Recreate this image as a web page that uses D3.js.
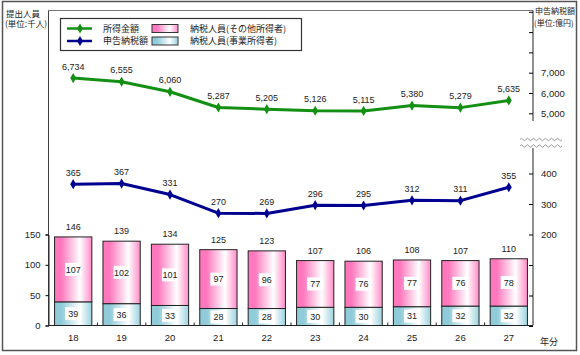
<!DOCTYPE html>
<html><head><meta charset="utf-8">
<script src="https://cdn.jsdelivr.net/npm/d3@7"></script>
<style>
body{margin:0;background:#fff;}
text{font-family:"Liberation Sans",Arial,sans-serif;fill:#222;}
.jp{font-family:"Noto Sans CJK JP",sans-serif;}
</style></head>
<body>
<svg id="c" width="580" height="355"></svg>
<script>
const years = ["18","19","20","21","22","23","24","25","26","27"];
const income = [6734,6555,6060,5287,5205,5126,5115,5380,5279,5635];
const taxAmount = [365,367,331,270,269,296,295,312,311,355];
const business = [39,36,33,28,28,30,30,31,32,32];
const others = [107,102,101,97,96,77,76,77,76,78];
const totals = [146,139,134,125,123,107,106,108,107,110];
const leftTicks = [0,50,100,150];
const upperTicks = [5000,6000,7000,8000,9000,10000];
const upperLabeled = [5000,6000,7000];
const lowerTicks = [-100,0,100,200,300,400];
const lowerLabeled = [200,300,400];

const svg = d3.select("#c");
const defs = svg.append("defs");
function grad(id, c1, c2){
  const g = defs.append("linearGradient").attr("id",id).attr("x1","0").attr("x2","1").attr("y1","0").attr("y2","0");
  g.append("stop").attr("offset","0").attr("stop-color",c1);
  g.append("stop").attr("offset","0.18").attr("stop-color",c1);
  g.append("stop").attr("offset","0.68").attr("stop-color","#ffffff");
  g.append("stop").attr("offset","1").attr("stop-color",c2);
}
grad("gPink","#ff78bd","#ff8cc8");
grad("gBlue","#8fcbd8","#9ad3df");

// outer frame
svg.append("rect").attr("x",2.5).attr("y",1.5).attr("width",574).attr("height",349)
  .attr("fill","none").attr("stroke","#555").attr("stroke-width",1.5);

const x = d3.scaleBand().domain(years).range([49,533]).paddingInner(0.23).paddingOuter(0.115);
const yL = d3.scaleLinear().domain([0,150]).range([325.5,234.5]);
const yU = d3.scaleLinear().domain([5000,7000]).range([113.3,72.7]);
const yD = d3.scaleLinear().domain([200,400]).range([234.5,173.5]);
const cx = d => x(d) + x.bandwidth()/2;

// plot frame top & left
svg.append("line").attr("x1",48.5).attr("x2",533).attr("y1",10.5).attr("y2",10.5).attr("stroke","#777");
svg.append("line").attr("x1",48.5).attr("x2",48.5).attr("y1",10.5).attr("y2",325.5).attr("stroke","#444");

// bars
const bars = svg.append("g");
years.forEach((yr,i)=>{
  const bx = x(yr), bw = x.bandwidth();
  bars.append("rect").attr("x",bx).attr("width",bw)
    .attr("y",yL(business[i])).attr("height",yL(0)-yL(business[i]))
    .attr("fill","url(#gBlue)").attr("stroke","#222").attr("stroke-width",1);
  bars.append("rect").attr("x",bx).attr("width",bw)
    .attr("y",yL(totals[i])).attr("height",yL(business[i])-yL(totals[i]))
    .attr("fill","url(#gPink)").attr("stroke","#222").attr("stroke-width",1);
  // labels with white boxes
  const lab = (val, yc) => {
    bars.append("rect").attr("x",cx(yr)-8).attr("y",yc-6.5).attr("width",16).attr("height",13).attr("fill","#fff");
    bars.append("text").attr("x",cx(yr)).attr("y",yc).attr("dy","0.35em").attr("text-anchor","middle")
      .attr("font-size",9).text(val);
  };
  lab(others[i], (yL(totals[i])+yL(business[i]))/2);
  lab(business[i], (yL(business[i])+yL(0))/2);
  bars.append("text").attr("x",cx(yr)).attr("y",yL(totals[i])-10).attr("dy","0.35em")
    .attr("text-anchor","middle").attr("font-size",9).text(totals[i]);
});

// left axis
const la = svg.append("g").attr("transform","translate(48.5,0)")
  .call(d3.axisLeft(yL).tickValues(leftTicks).tickSize(3).tickPadding(5).tickFormat(d3.format("d")));
la.select(".domain").attr("stroke","#222");
la.selectAll("text").attr("font-size",9.5).style("font-family","Liberation Sans, Arial");

// x axis
svg.append("line").attr("x1",48.5).attr("x2",533).attr("y1",325.5).attr("y2",325.5).attr("stroke","#222").attr("stroke-width",1.2);
years.slice(1).forEach(yr=>{
  const bx = x(yr) - x.step()*x.paddingInner()/2;
  svg.append("line").attr("x1",bx).attr("x2",bx).attr("y1",325.5).attr("y2",322.5).attr("stroke","#222");
});
svg.append("g").selectAll("text").data(years).join("text")
  .attr("x",d=>cx(d)).attr("y",337.5).attr("dy","0.35em").attr("text-anchor","middle").attr("font-size",9.5).text(d=>d);
svg.append("text").attr("class","jp").attr("x",540).attr("y",342).attr("dy","0.35em").attr("font-size",9).text("年分");

// right axes
const fmt = d3.format(",");
const ua = svg.append("g").attr("transform","translate(533,0)")
  .call(d3.axisRight(yU).tickValues(upperTicks).tickSizeInner(-4).tickSizeOuter(0).tickPadding(8)
    .tickFormat(d=>upperLabeled.includes(d)?fmt(d):""));
ua.select(".domain").attr("d","M0,10.5V121").attr("stroke","#222");
ua.selectAll("text").attr("font-size",9.5);
const da = svg.append("g").attr("transform","translate(533,0)")
  .call(d3.axisRight(yD).tickValues(lowerTicks).tickSizeInner(-4).tickSizeOuter(0).tickPadding(8)
    .tickFormat(d=>lowerLabeled.includes(d)?fmt(d):""));
da.select(".domain").attr("d","M0,148V325.5").attr("stroke","#222");
da.selectAll("text").attr("font-size",9.5);
// break marks
function wave(y0){
  let p = `M520,${y0}`;
  for(let xx=520; xx<562; xx+=6){ p += ` q1.5,-2.5 3,0 q1.5,2.5 3,0`; }
  return p;
}
[139.5,146].forEach(yy=>svg.append("path").attr("d",wave(yy)).attr("fill","none").attr("stroke","#999").attr("stroke-width",1));

// lines
const diamond = d3.symbol().type(d3.symbolDiamond).size(30);
function series(vals, sc, color, fmtF){
  const g = svg.append("g");
  const line = d3.line().x((d,i)=>cx(years[i])).y(d=>sc(d));
  g.append("path").attr("d",line(vals)).attr("fill","none").attr("stroke",color).attr("stroke-width",3).attr("stroke-linejoin","round");
  g.selectAll("path.m").data(vals).join("path").attr("class","m")
    .attr("transform",(d,i)=>`translate(${cx(years[i])},${sc(d)})`).attr("d",diamond).attr("fill",color);
  g.selectAll("text").data(vals).join("text")
    .attr("x",(d,i)=>cx(years[i])).attr("y",d=>sc(d)-11.5).attr("dy","0.35em")
    .attr("text-anchor","middle").attr("font-size",9).text(fmtF);
}
series(income, yU, "#139013", d=>fmt(d));
series(taxAmount, yD, "#000090", d=>d);

// titles
svg.append("text").attr("class","jp").attr("x",6).attr("y",14).attr("dy","0.35em").attr("font-size",8.5).text("提出人員");
svg.append("text").attr("class","jp").attr("x",5).attr("y",24.5).attr("dy","0.35em").attr("font-size",8.5).text("(単位:千人)");
svg.append("text").attr("class","jp").attr("x",535).attr("y",11.5).attr("dy","0.35em").attr("font-size",8).text("申告納税額");
svg.append("text").attr("class","jp").attr("x",534).attr("y",23).attr("dy","0.35em").attr("font-size",8).text("(単位:億円)");

// legend
const lg = svg.append("g");
lg.append("rect").attr("x",60.5).attr("y",18.5).attr("width",241).attr("height",32).attr("fill","#fff").attr("stroke","#333").attr("stroke-width",1.2);
const lines = [{name:"所得金額",color:"#139013",y:28.5},{name:"申告納税額",color:"#000090",y:41}];
lines.forEach(l=>{
  lg.append("line").attr("x1",67).attr("x2",92).attr("y1",l.y).attr("y2",l.y).attr("stroke",l.color).attr("stroke-width",2.5);
  lg.append("path").attr("transform",`translate(80,${l.y})`).attr("d",diamond).attr("fill",l.color);
  lg.append("text").attr("class","jp").attr("x",103).attr("y",l.y).attr("dy","0.35em").attr("font-size",9).text(l.name);
});
const boxes = [{name:"納税人員(その他所得者)",fill:"url(#gPink)",y:28.5},{name:"納税人員(事業所得者)",fill:"url(#gBlue)",y:41}];
boxes.forEach(b=>{
  lg.append("rect").attr("x",152).attr("y",b.y-4).attr("width",26).attr("height",8).attr("fill",b.fill).attr("stroke","#333");
  lg.append("text").attr("class","jp").attr("x",190).attr("y",b.y).attr("dy","0.35em").attr("font-size",9).text(b.name);
});
</script>
</body></html>
